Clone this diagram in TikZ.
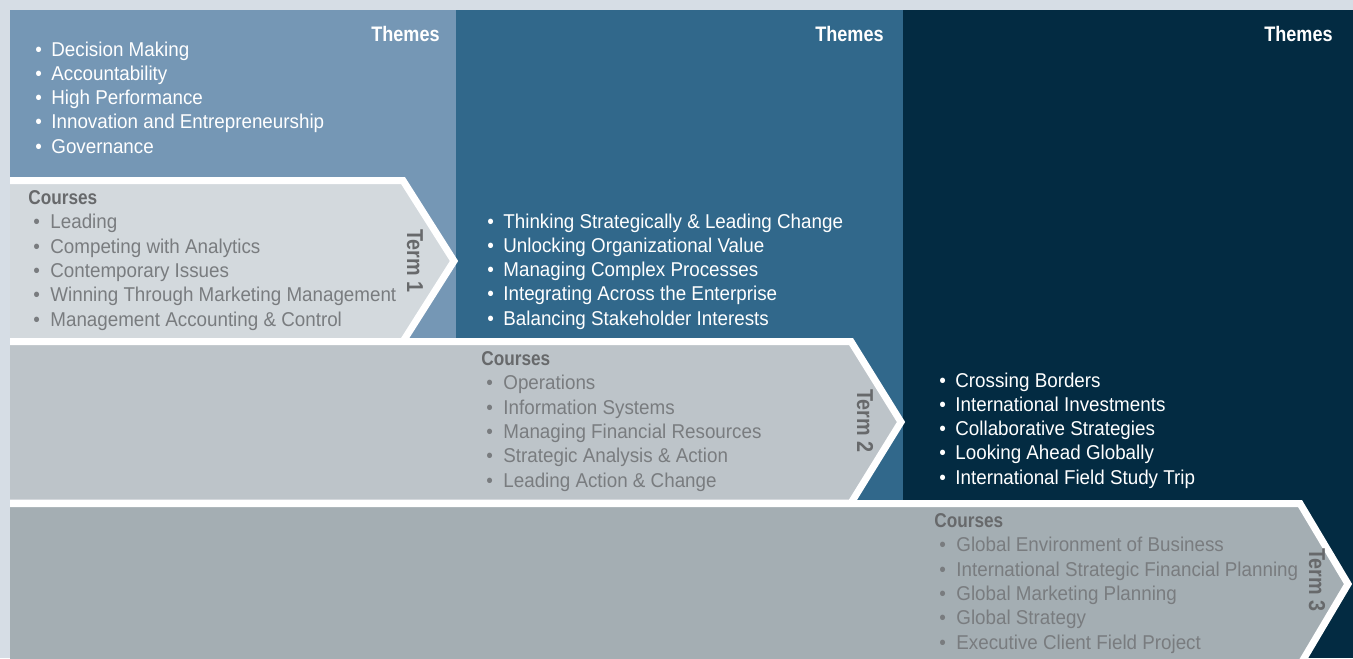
\documentclass[tikz,border=0pt]{standalone}
\usepackage{fontspec}
\setmainfont{Liberation Sans}[FakeStretch=0.94]
\newfontfamily\hdfont{Liberation Sans}[FakeStretch=0.86]
\definecolor{bgcol}{HTML}{D6DDE5}
\definecolor{termone}{HTML}{7597B5}
\definecolor{termtwo}{HTML}{31688B}
\definecolor{termthree}{HTML}{032B42}
\definecolor{bandone}{HTML}{D3D9DD}
\definecolor{bandtwo}{HTML}{BDC4C9}
\definecolor{bandthree}{HTML}{A4AEB3}
\definecolor{headgray}{HTML}{67696B}
\definecolor{itemgray}{HTML}{797C7F}
\tikzset{
        band/.style={line width=3.5pt,draw=white,line join=miter},
        themes/.style={font=\hdfont\fontsize{10.5pt}{12pt}\selectfont\bfseries,text=white,inner sep=0pt,anchor=base east},
        termlbl/.style={font=\hdfont\fontsize{11.5pt}{12pt}\selectfont\bfseries,text=headgray,inner sep=0pt,rotate=-90},
        thmlist/.style={font=\fontsize{10pt}{12.15pt}\selectfont,text=white,align=left,inner sep=0pt,anchor=base west},
        crslist/.style={font=\fontsize{10pt}{12.15pt}\selectfont,text=itemgray,align=left,inner sep=0pt,anchor=base west}
    }
\newcommand{\itm}[1]{\makebox[8pt][l]{\textbullet}#1}
\newcommand{\crs}[1]{\hspace*{2.5pt}\makebox[8.5pt][l]{\textbullet}#1}
\newcommand{\crshead}{{\hdfont\bfseries\color{headgray}Courses}}

\begin{document}
\begin{tikzpicture}[x=0.5pt,y=-0.5pt]

\clip (0,0) rectangle (1353,658);
\fill[bgcol] (0,0) rectangle (1353,658);

% theme columns
\fill[termone] (10,10) rectangle (456,345);
\fill[termtwo] (456,10) rectangle (903,507);
\fill[termthree] (903,10) rectangle (1353,658);

% course arrows
\filldraw[band,fill=bandone] (10,180.5) -- (403,180.5) -- (454,261) -- (403,341.5) -- (10,341.5);
\filldraw[band,fill=bandtwo] (10,341.5) -- (851,341.5) -- (901,422) -- (851,503) -- (10,503);
\filldraw[band,fill=bandthree] (10,503.5) -- (1300,503.5) -- (1348,584) -- (1300,665) -- (10,665);

\draw (440,42) node(THEMES1)[themes]{Themes};
\draw (884,42) node(THEMES2)[themes]{Themes};
\draw (1333,42) node(THEMES3)[themes]{Themes};

% lists sit on the baseline of their last line
\draw (35,153.2) node(THM1)[thmlist]{\itm{Decision Making}\\ \itm{Accountability}\\ \itm{High Performance}\\
    \itm{Innovation and Entrepreneurship}\\ \itm{Governance}};
\draw (487,325.2) node(THM2)[thmlist]{\itm{Thinking Strategically \& Leading Change}\\ \itm{Unlocking Organizational Value}\\
    \itm{Managing Complex Processes}\\ \itm{Integrating Across the Enterprise}\\ \itm{Balancing Stakeholder Interests}};
\draw (939,484.2) node(THM3)[thmlist]{\itm{Crossing Borders}\\ \itm{International Investments}\\ \itm{Collaborative Strategies}\\
    \itm{Looking Ahead Globally}\\ \itm{International Field Study Trip}};

\draw (28,326) node(CRS1)[crslist]{\crshead\\ \crs{Leading}\\ \crs{Competing with Analytics}\\ \crs{Contemporary Issues}\\
    \crs{Winning Through Marketing Management}\\ \crs{Management Accounting \& Control}};
\draw (481,487) node(CRS2)[crslist]{\crshead\\ \crs{Operations}\\ \crs{Information Systems}\\ \crs{Managing Financial Resources}\\
    \crs{Strategic Analysis \& Action}\\ \crs{Leading Action \& Change}};
\draw (934,649) node(CRS3)[crslist]{\crshead\\ \crs{Global Environment of Business}\\ \crs{International Strategic Financial Planning}\\
    \crs{Global Marketing Planning}\\ \crs{Global Strategy}\\ \crs{Executive Client Field Project}};

\draw (415,261) node(TERM1)[termlbl]{Term 1};
\draw (865,421) node(TERM2)[termlbl]{Term 2};
\draw (1317,580) node(TERM3)[termlbl]{Term 3};

\end{tikzpicture}
\end{document}
